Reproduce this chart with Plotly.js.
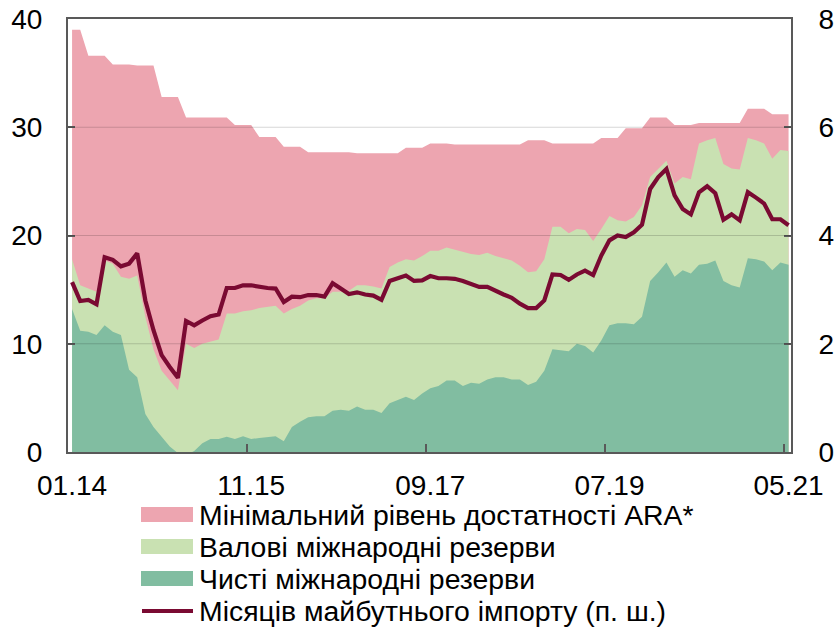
<!DOCTYPE html>
<html>
<head>
<meta charset="utf-8">
<script src="https://cdn.plot.ly/plotly-3.0.1.min.js"></script>
<style>
html,body{margin:0;padding:0;background:#fff;}
#chart{width:834px;height:627px;}
</style>
</head>
<body>
<div id="chart"></div>
<script>
const months = [
 "01.14","02.14","03.14","04.14","05.14","06.14","07.14","08.14","09.14","10.14","11.14","12.14",
 "01.15","02.15","03.15","04.15","05.15","06.15","07.15","08.15","09.15","10.15","11.15","12.15",
 "01.16","02.16","03.16","04.16","05.16","06.16","07.16","08.16","09.16","10.16","11.16","12.16",
 "01.17","02.17","03.17","04.17","05.17","06.17","07.17","08.17","09.17","10.17","11.17","12.17",
 "01.18","02.18","03.18","04.18","05.18","06.18","07.18","08.18","09.18","10.18","11.18","12.18",
 "01.19","02.19","03.19","04.19","05.19","06.19","07.19","08.19","09.19","10.19","11.19","12.19",
 "01.20","02.20","03.20","04.20","05.20","06.20","07.20","08.20","09.20","10.20","11.20","12.20",
 "01.21","02.21","03.21","04.21","05.21"
];
const tickLabels = ["01.14","11.15","09.17","07.19","05.21"];

// Мінімальний рівень достатності ARA*
const araMin = [
 39.0,39.0, 36.6,36.6,36.6, 35.8,35.8,35.8, 35.7,35.7,35.7, 32.8,32.8,32.8,
 30.9,30.9,30.9,30.9,30.9,30.9, 30.2,30.2,30.2, 29.1,29.1,29.1, 28.2,28.2,28.2,
 27.7,27.7,27.7,27.7,27.7,27.7, 27.6,27.6,27.6,27.6,27.6,27.6, 28.1,28.1,28.1,
 28.5,28.5,28.5, 28.4,28.4,28.4,28.4,28.4,28.4,28.4,28.4,28.4, 28.8,28.8,28.8,
 28.5,28.5,28.5,28.5,28.5,28.5, 29.0,29.0,29.0, 29.9,29.9,29.9, 30.9,30.9,30.9,
 30.2,30.2,30.2, 30.4,30.4,30.4,30.4,30.4,30.4, 31.7,31.7,31.7, 31.2,31.2,31.2
];
// Валові міжнародні резерви
const grossReserves = [
 17.8,15.4,15.1,14.8,17.7,17.4,16.2,16.0,16.3,12.5,9.5,7.5,6.6,5.7,
 10.0,9.6,10.0,10.2,10.4,12.8,12.8,13.0,13.1,13.3,13.4,13.5,12.8,13.2,13.5,
 14.0,14.2,14.2,14.8,14.8,14.9,15.4,15.4,15.3,15.1,17.1,17.5,17.8,17.7,18.1,
 18.6,18.6,18.9,18.7,18.5,18.3,18.2,18.4,18.1,17.9,17.7,17.2,16.6,16.7,17.8,
 20.8,20.8,20.2,20.6,20.5,19.5,20.6,21.8,21.4,21.3,21.7,22.8,25.4,26.2,26.9,
 24.8,25.4,25.2,28.5,28.8,29.0,26.6,26.2,26.1,29.0,28.8,28.5,27.1,27.9,27.8
];
// Чисті міжнародні резерви
const netReserves = [
 13.2,11.2,11.1,10.8,11.7,11.1,10.8,7.6,6.9,3.5,2.3,1.4,0.5,-0.1,
 -0.3,0.1,0.8,1.2,1.2,1.4,1.2,1.45,1.2,1.3,1.4,1.45,1.0,2.3,2.8,
 3.2,3.3,3.3,3.8,3.9,3.8,4.2,3.9,3.9,3.6,4.5,4.8,5.1,4.8,5.4,
 5.9,6.1,6.6,6.6,6.1,6.4,6.3,6.7,6.9,6.9,6.7,6.7,6.2,6.5,7.5,
 9.5,9.4,9.3,10.0,9.8,9.2,10.3,11.7,11.9,11.9,11.8,12.5,15.8,16.6,17.5,
 16.2,16.8,16.5,17.3,17.4,17.7,15.8,15.4,15.2,17.9,17.8,17.6,16.8,17.5,17.3
];
// Місяців майбутнього імпорту (п. ш.)
const importMonths = [
 3.14,2.79,2.81,2.73,3.60,3.55,3.43,3.48,3.67,2.80,2.25,1.79,1.57,1.37,
 2.42,2.34,2.43,2.51,2.54,3.03,3.03,3.08,3.08,3.05,3.03,3.02,2.77,2.87,2.86,
 2.90,2.90,2.87,3.12,3.02,2.92,2.95,2.91,2.89,2.81,3.16,3.22,3.26,3.16,3.17,
 3.25,3.21,3.21,3.20,3.16,3.11,3.05,3.05,2.97,2.91,2.85,2.74,2.66,2.66,2.80,
 3.28,3.27,3.18,3.28,3.35,3.27,3.63,3.91,4.00,3.97,4.06,4.20,4.86,5.08,5.23,
 4.74,4.49,4.39,4.80,4.91,4.78,4.29,4.39,4.28,4.80,4.70,4.59,4.30,4.30,4.19
];
const seriesNames = [
 "Мінімальний рівень достатності ARA*",
 "Валові міжнародні резерви",
 "Чисті міжнародні резерви",
 "Місяців майбутнього імпорту (п. ш.)"
];
const colors = ["#EDA5B0", "#C9E1B2", "#81BDA1", "#7A0A32"];
const gridVals = [10, 20, 30];

const FONT = '"Liberation Sans", Arial, sans-serif';
const W = 834, H = 627;
const M = {l: 68, r: 43, t: 19, b: 175};
const PW = W - M.l - M.r, PH = H - M.t - M.b;
const px = x => (x - M.l) / PW;
const py = y => (H - M.b - y) / PH;

const traces = [
  {x: months, y: araMin, name: seriesNames[0], type: 'scatter', mode: 'lines',
   fill: 'tozeroy', fillcolor: colors[0], line: {width: 0, color: colors[0]}, showlegend: false, hoverinfo: 'y'},
  {x: months, y: grossReserves, name: seriesNames[1], type: 'scatter', mode: 'lines',
   fill: 'tozeroy', fillcolor: colors[1], line: {width: 0, color: colors[1]}, showlegend: false, hoverinfo: 'y'},
  {x: months, y: netReserves, name: seriesNames[2], type: 'scatter', mode: 'lines',
   fill: 'tozeroy', fillcolor: colors[2], line: {width: 0, color: colors[2]}, showlegend: false, hoverinfo: 'y'},
  {x: months, y: importMonths, name: seriesNames[3], type: 'scatter', mode: 'lines',
   yaxis: 'y2', line: {width: 4.2, color: colors[3]}, showlegend: false, hoverinfo: 'y'}
];

const shapes = [];
gridVals.forEach(v => shapes.push({type: 'line', xref: 'paper', yref: 'y', x0: 0, x1: 1, y0: v, y1: v,
  line: {color: 'rgba(0,0,0,0.16)', width: 1.2}, layer: 'above'}));

const annotations = [];
const legRows = [514.5, 546.5, 578.5, 611];
for (let k = 0; k < 4; k++) {
  const yc = legRows[k];
  if (k < 3) {
    shapes.push({type: 'rect', xref: 'paper', yref: 'paper', x0: px(141), x1: px(193), y0: py(yc + 7.5), y1: py(yc - 7.5),
      fillcolor: colors[k], line: {width: 0}});
  } else {
    shapes.push({type: 'line', xref: 'paper', yref: 'paper', x0: px(142), x1: px(193), y0: py(yc), y1: py(yc),
      line: {color: colors[3], width: 4.2}});
  }
  annotations.push({xref: 'paper', yref: 'paper', x: px(197), y: py(yc), xanchor: 'left', yanchor: 'middle',
    text: seriesNames[k], showarrow: false, font: {family: FONT, size: 28.4, color: '#000'}});
}

const axisLine = {showline: true, linecolor: '#595959', linewidth: 2};
const layout = {
  width: W, height: H,
  margin: M,
  paper_bgcolor: '#fff', plot_bgcolor: '#fff',
  font: {family: FONT, size: 28, color: '#000'},
  showlegend: false,
  xaxis: Object.assign({
    type: 'category', range: [-0.5, 88.3], tickmode: 'array', tickvals: tickLabels, ticktext: tickLabels,
    tickson: 'boundaries', ticks: 'inside', ticklen: 8, tickwidth: 2, tickcolor: '#595959',
    showgrid: false, mirror: true, ticklabelstandoff: 7, tickangle: 0,
    tickfont: {family: FONT, size: 28, color: '#000'}
  }, axisLine),
  yaxis: Object.assign({
    range: [0, 40], dtick: 10, ticks: 'inside', ticklen: 7, tickwidth: 2, tickcolor: '#595959',
    showgrid: false, zeroline: false, mirror: true, ticklabelstandoff: 18,
    tickfont: {family: FONT, size: 28, color: '#000'}
  }, axisLine),
  yaxis2: Object.assign({
    overlaying: 'y', side: 'right', range: [0, 8], dtick: 2, ticks: 'inside', ticklen: 7, tickwidth: 2,
    tickcolor: '#595959', showgrid: false, zeroline: false, ticklabelstandoff: 20,
    tickfont: {family: FONT, size: 28, color: '#000'}
  }, axisLine),
  shapes: shapes,
  annotations: annotations
};

Plotly.newPlot('chart', traces, layout, {displayModeBar: false, staticPlot: true});
</script>
</body>
</html>
